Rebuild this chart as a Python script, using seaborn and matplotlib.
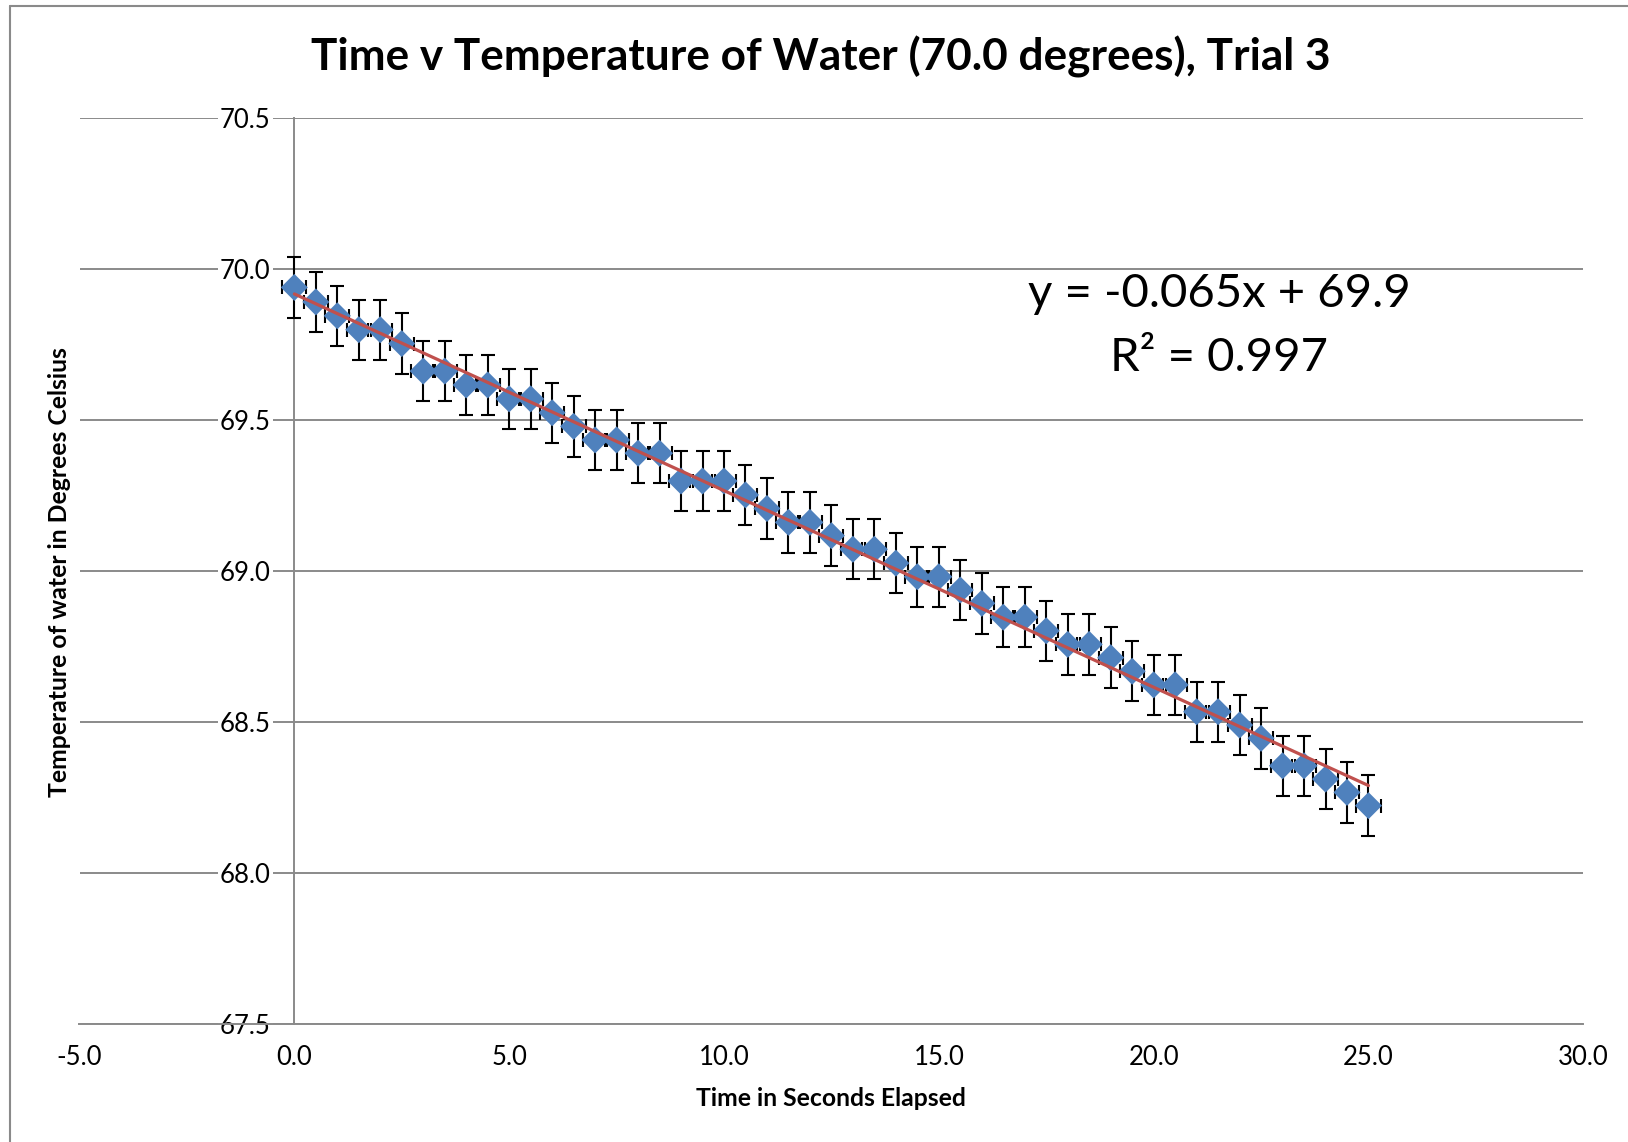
import numpy as np
import pandas as pd
import matplotlib
matplotlib.use("Agg")
import matplotlib.pyplot as plt
import seaborn as sns

# ---- data ----
time_s = [0.0, 0.5, 1.0, 1.5, 2.0, 2.5, 3.0, 3.5, 4.0, 4.5, 5.0, 5.5, 6.0, 6.5,
          7.0, 7.5, 8.0, 8.5, 9.0, 9.5, 10.0, 10.5, 11.0, 11.5, 12.0, 12.5, 13.0,
          13.5, 14.0, 14.5, 15.0, 15.5, 16.0, 16.5, 17.0, 17.5, 18.0, 18.5, 19.0,
          19.5, 20.0, 20.5, 21.0, 21.5, 22.0, 22.5, 23.0, 23.5, 24.0, 24.5, 25.0]
temp_c = [69.939, 69.891, 69.845, 69.799, 69.799, 69.753, 69.662, 69.662, 69.616,
          69.616, 69.570, 69.570, 69.524, 69.479, 69.434, 69.434, 69.390, 69.390,
          69.298, 69.298, 69.298, 69.252, 69.207, 69.161, 69.161, 69.117, 69.072,
          69.072, 69.026, 68.981, 68.981, 68.937, 68.893, 68.847, 68.847, 68.802,
          68.757, 68.757, 68.713, 68.668, 68.623, 68.623, 68.534, 68.534, 68.490,
          68.446, 68.355, 68.355, 68.311, 68.267, 68.223]
x_err = 0.28
y_err = 0.1
x_ticks = [-5.0, 0.0, 5.0, 10.0, 15.0, 20.0, 25.0, 30.0]
y_ticks = [67.5, 68.0, 68.5, 69.0, 69.5, 70.0, 70.5]
title = "Time v Temperature of Water (70.0 degrees), Trial 3"
x_label = "Time in Seconds Elapsed"
y_label = "Temperature of water in Degrees Celsius"
eq_line1 = "y = -0.065x + 69.9"
eq_line2 = "R\u00b2 = 0.997"

df = pd.DataFrame({"t": time_s, "temp": temp_c})

sns.set_theme(style="white")
plt.rcParams["font.family"] = ["Lato", "DejaVu Sans"]
plt.rcParams["text.color"] = "black"

GRAY = "#8a8a8a"
fig = plt.figure(figsize=(16.28, 11.42), dpi=100)
ax = fig.add_axes([79.5 / 1628, 1 - 1024 / 1142, (1583.3 - 79.5) / 1628, (1024 - 118) / 1142])

# spines first (set_position resets the ticks)
for s in ["top", "right"]:
    ax.spines[s].set_visible(False)
ax.spines["left"].set_position(("data", 0))
for s in ["left", "bottom"]:
    ax.spines[s].set_color(GRAY)
    ax.spines[s].set_linewidth(1.4)

# error bars (below markers)
ax.errorbar(df["t"], df["temp"], xerr=x_err, yerr=y_err, fmt="none",
            ecolor="black", elinewidth=1.5, capsize=5.2, capthick=1.5, zorder=3)
# markers
sns.scatterplot(data=df, x="t", y="temp", marker="D", s=190, color="#4F81BD",
                edgecolor="none", linewidth=0, ax=ax, zorder=4)
# linear trendline from the data
coef = np.polyfit(df["t"], df["temp"], 1)
trend = pd.DataFrame({"t": [df["t"].min(), df["t"].max()]})
trend["temp"] = np.polyval(coef, trend["t"])
sns.lineplot(data=trend, x="t", y="temp", color="#C0504D", linewidth=2.3, ax=ax, zorder=5)

ax.set_xlim(-5, 30)
ax.set_ylim(67.5, 70.5)
ax.set_xticks(x_ticks)
ax.set_yticks(y_ticks)
ax.set_xticklabels([f"{v:.1f}" for v in x_ticks])
ax.set_yticklabels([f"{v:.1f}" for v in y_ticks])
ax.yaxis.grid(True, color=GRAY, linewidth=1.4)
ax.xaxis.grid(False)
ax.set_axisbelow(True)
ax.tick_params(axis="y", direction="out", length=5, width=1.4, color=GRAY, pad=12,
               labelcolor="black", labelsize=18.5)
ax.tick_params(axis="x", direction="out", length=6, width=1.4, color=GRAY, pad=9,
               labelcolor="black", labelsize=18.5)
for lab in ax.get_yticklabels():
    lab.set_bbox(dict(facecolor="white", edgecolor="none", pad=1.5))
ax.set_xlabel("")
ax.set_ylabel("")

fig.text(831 / 1628, 1 - 1098.5 / 1142, x_label, ha="center", va="center",
         fontsize=17.8, fontweight="bold", color="black")
fig.text(60 / 1628, 1 - 572 / 1142, y_label, ha="center", va="center",
         rotation=90, fontsize=17.8, fontweight="bold", color="black")
fig.text(821 / 1628, 1 - 57 / 1142, title, ha="center", va="center",
         fontsize=31.8, fontweight="bold", color="black")
fig.text(1219 / 1628, 1 - 294 / 1142, eq_line1, ha="center", va="center", fontsize=34,
         color="black")
fig.text(1219 / 1628, 1 - 358 / 1142, eq_line2, ha="center", va="center", fontsize=34,
         color="black")

# chart frame (left and top edges visible in the reference)
fig.add_artist(plt.Line2D([9.5 / 1628, 9.5 / 1628], [0, 1 - 6 / 1142], color=GRAY, linewidth=1.5))
fig.add_artist(plt.Line2D([9.5 / 1628, 1], [1 - 6 / 1142, 1 - 6 / 1142], color=GRAY, linewidth=1.5))

fig.savefig("out.png", dpi=100, facecolor="white")
